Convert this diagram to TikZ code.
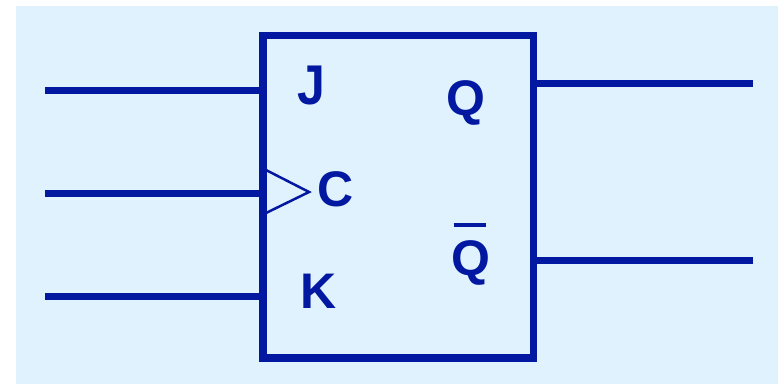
\documentclass[tikz,border=0pt]{standalone}
\usepackage{fontspec}
\setmainfont{Liberation Sans}
\definecolor{bgc}{RGB}{224,242,253}
\definecolor{ink}{RGB}{2,24,160}
\begin{document}
\begin{tikzpicture}[x=1pt,y=-1pt,
  wire/.style={draw=ink,line width=7pt,line cap=butt},
  lbl/.style={text=ink,font=\fontsize{50}{50}\selectfont\bfseries,inner sep=0pt,anchor=base},
  ffbox/.style={draw=ink,line width=7.5pt,minimum width=270.5pt,minimum height=322.5pt,inner sep=0pt}]
\useasboundingbox (0,0) rectangle (778,384);
\fill[bgc] (16,6) rectangle (778,384);
\node[ffbox] (ff) at (398.25,196.75) {};
% free ends
\coordinate (jin) at (45,90);
\coordinate (cin) at (45,193);
\coordinate (kin) at (45,296.5);
\coordinate (qout) at (753,83.5);
\coordinate (qbout) at (753,260.3);
\draw[wire] (jin) -- (ff.west |- jin);
\draw[wire] (cin) -- (ff.west |- cin);
\draw[wire] (kin) -- (ff.west |- kin);
\draw[wire] (ff.east |- qout) -- (qout);
\draw[wire] (ff.east |- qbout) -- (qbout);
% clock triangle
\coordinate (t1) at (266,170);
\coordinate (t2) at (309,192);
\coordinate (t3) at (266,213);
\draw[draw=ink,line width=2.5pt,line join=miter] (t1) -- (t2) -- (t3);
% labels
\node[lbl] (J) at (311.5,104) {\scalebox{1}[1.12]{J}};
\node[lbl] (C) at (336,206) {C};
\node[lbl] (K) at (319,308) {K};
\node[lbl] (Q) at (466,115) {Q};
\node[lbl] (QB) at (471,275) {\makebox[0pt][l]{\hspace{2pt}\rule[48.3pt]{32pt}{3.7pt}}Q};
\end{tikzpicture}
\end{document}
